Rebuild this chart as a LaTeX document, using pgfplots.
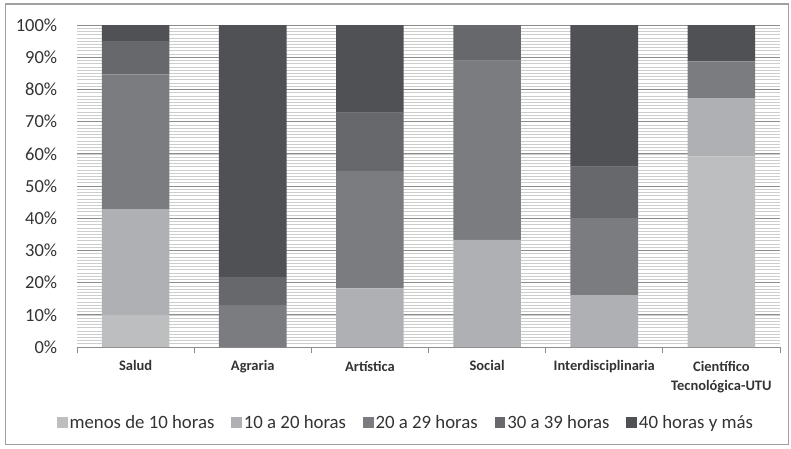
\documentclass[border=0pt]{standalone}
\usepackage{fontspec}
\setmainfont{Carlito}
\usepackage{pgfplots}
\pgfplotsset{compat=1.18}
\usetikzlibrary{calc}

\definecolor{cA}{HTML}{BDBEC0}
\definecolor{cB}{HTML}{AFB0B3}
\definecolor{cC}{HTML}{7B7C80}
\definecolor{cD}{HTML}{67686C}
\definecolor{cE}{HTML}{505154}
\definecolor{cFrame}{HTML}{A0A0A0}
\definecolor{cMajor}{HTML}{8C8C8C}
\definecolor{cMinor}{HTML}{CDCDCD}
\definecolor{cText}{HTML}{333333}

\begin{document}
\begin{tikzpicture}[x=1pt,y=1pt]
\begin{axis}[
  name=ax,
  at={(0,0)}, anchor=south west,
  scale only axis,
  width=703pt, height=322pt,
  ybar stacked,
  bar width=0.577,
  xmin=-0.5, xmax=5.5,
  ymin=0, ymax=100,
  xtick={0,1,2,3,4,5},
  xticklabels={Salud, Agraria, Artística, Social, Interdisciplinaria,
               Científico\\Tecnológica-UTU},
  xticklabel style={font=\fontsize{14.5}{19.5}\selectfont\bfseries,
                    align=center, text=cText, yshift=-6pt},
  minor xtick={-0.5,0.5,...,5.5},
  major x tick style={draw=none},
  minor x tick style={cMajor, line width=0.8pt},
  minor tick length=6pt,
  tick align=outside,
  ytick={0,10,...,100},
  yticklabels={0\%,10\%,20\%,30\%,40\%,50\%,60\%,70\%,80\%,90\%,100\%},
  yticklabel style={font=\fontsize{18.5}{20}\selectfont, text=cText,
                    xshift=-12pt},
  minor ytick={0,1,...,100},
  major y tick style={draw=none},
  minor y tick style={draw=none},
  ymajorgrids, yminorgrids,
  major grid style={cMajor, line width=0.9pt},
  minor grid style={cMinor, line width=0.6pt},
  axis x line*=bottom,
  axis y line*=left,
  x axis line style={cMajor, line width=0.9pt},
  y axis line style={draw=none},
  legend columns=5,
  legend style={at={(rel axis cs:0.468,-0.236)}, anchor=center,
                draw=none, fill=none,
                font=\fontsize{18.8}{20}\selectfont, text=cText,
                nodes={inner xsep=2pt},
                /tikz/every even column/.append style={column sep=15pt}},
  legend image code/.code={\fill[#1] (0pt,-5pt) rectangle (10.5pt,5.5pt);},
]
\addplot[fill=cA, draw=none] coordinates {(0,10) (1,0) (2,0) (3,0) (4,0) (5,59.1)};
\addplot[fill=cB, draw=none] coordinates {(0,32.8) (1,0) (2,18.2) (3,33.3) (4,16) (5,18.2)};
\addplot[fill=cC, draw=none] coordinates {(0,41.9) (1,13.0) (2,36.4) (3,55.6) (4,24) (5,11.4)};
\addplot[fill=cD, draw=none] coordinates {(0,10.3) (1,8.7) (2,18.2) (3,11.1) (4,16) (5,0)};
\addplot[fill=cE, draw=none] coordinates {(0,5) (1,78.3) (2,27.3) (3,0) (4,44) (5,11.3)};
\legend{menos de 10 horas, 10 a 20 horas, 20 a 29 horas, 30 a 39 horas, 40 horas y más}
\coordinate (bl) at (rel axis cs:0,0);
\end{axis}
% outer chart frame and page size
\draw[cFrame, line width=1.3pt] ($(bl)+(-71.5pt,-97.5pt)$) rectangle ($(bl)+(711.5pt,343pt)$);
\pgfresetboundingbox
\path[use as bounding box] ($(bl)+(-77pt,-101pt)$) rectangle ($(bl)+(714pt,347pt)$);
\end{tikzpicture}
\end{document}
